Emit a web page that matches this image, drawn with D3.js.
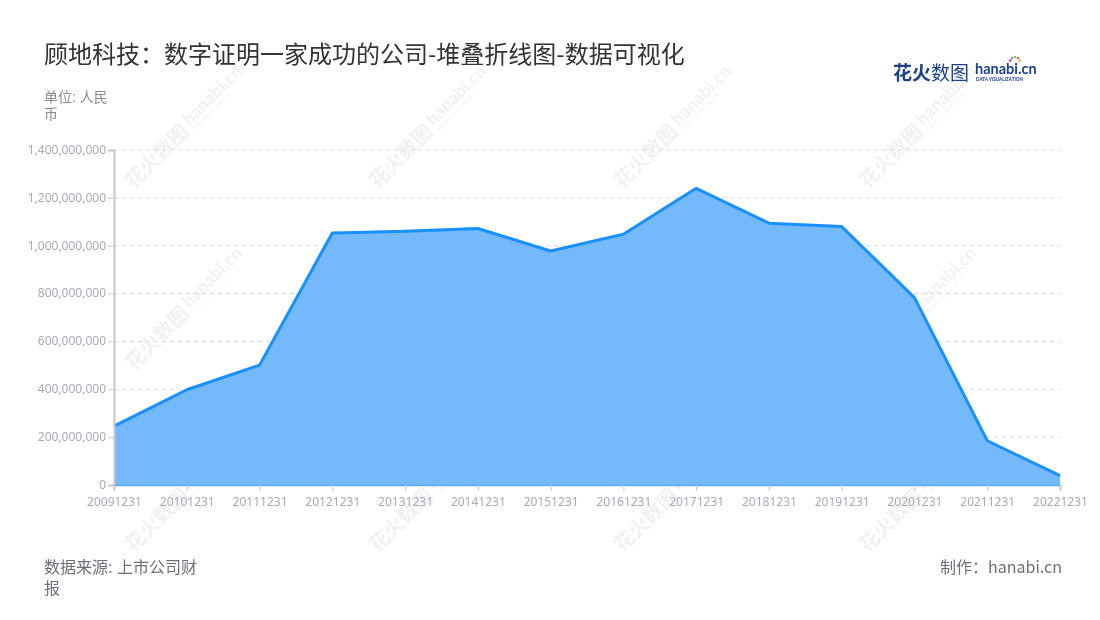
<!DOCTYPE html>
<html lang="zh">
<head>
<meta charset="UTF-8">
<title>顾地科技：数字证明一家成功的公司-堆叠折线图-数据可视化</title>
<script src="https://d3js.org/d3.v7.min.js"></script>
<style>
  body {
    margin: 0;
    background: #fff;
    font-family: "Noto Sans CJK SC", "Noto Sans", sans-serif;
  }
  .tick text { fill: #aaaab4; font-size: 12px; font-family: "Noto Sans", "Noto Sans CJK SC", sans-serif; }
  .note { font-family: "Liberation Sans", "Noto Sans CJK SC", sans-serif; }
</style>
</head>
<body>
<div id="vis"></div>
<script>
// data
const dates = ['20091231', '20101231', '20111231', '20121231', '20131231', '20141231', '20151231',
  '20161231', '20171231', '20181231', '20191231', '20201231', '20211231', '20221231'];
const revenue = [246e6, 398e6, 501e6, 1053e6, 1060e6, 1072e6, 978e6,
  1048e6, 1240e6, 1094e6, 1080e6, 783e6, 185e6, 39e6];
const yTicks = [0, 2e8, 4e8, 6e8, 8e8, 10e8, 12e8, 14e8];

const width = 1100;
const height = 620;
const margin = { top: 150, right: 40, bottom: 135, left: 114 };

const svg = d3.select('#vis')
  .append('svg')
  .attr('width', width)
  .attr('height', height);

// watermark layer
const wmX = [188, 432, 677, 922];
const wmY = [125, 307, 489];
const wm = svg.append('g').attr('opacity', 0.055);
wmY.forEach(y => wmX.forEach(x => {
  const g = wm.append('g').attr('transform', `translate(${x},${y}) rotate(-45)`);
  g.append('text')
    .attr('x', -4).attr('y', 7)
    .attr('text-anchor', 'end')
    .style('font-size', '20px')
    .style('font-weight', 'bold')
    .attr('fill', '#000')
    .text('花火数图');
  g.append('text')
    .attr('x', 0).attr('y', 2)
    .style('font-size', '18px')
    .style('font-weight', 'bold')
    .style('font-family', 'Lato, sans-serif')
    .attr('fill', '#000')
    .text('hanabi.cn');
  g.append('text')
    .attr('x', 1).attr('y', 9)
    .style('font-size', '5px')
    .style('font-family', 'Lato, sans-serif')
    .attr('fill', '#000')
    .text('DATA VISUALIZATION');
}));

const x = d3.scalePoint()
  .domain(dates)
  .range([margin.left, width - margin.right]);

const y = d3.scaleLinear()
  .domain([0, 1.4e9])
  .range([height - margin.bottom, margin.top]);

// dashed grid
svg.append('g')
  .selectAll('line')
  .data(yTicks.slice(1))
  .join('line')
  .attr('x1', margin.left)
  .attr('x2', width - margin.right)
  .attr('y1', d => y(d))
  .attr('y2', d => y(d))
  .attr('stroke', '#dcdcdc')
  .attr('stroke-dasharray', '4,4');

// area + line
const area = d3.area()
  .x((d, i) => x(dates[i]))
  .y0(y(0))
  .y1(d => y(d));

const line = d3.line()
  .x((d, i) => x(dates[i]))
  .y(d => y(d));

svg.append('path')
  .datum(revenue)
  .attr('d', area)
  .attr('fill', '#74b9fc');

svg.append('path')
  .datum(revenue)
  .attr('d', line)
  .attr('fill', 'none')
  .attr('stroke', '#1890ff')
  .attr('stroke-width', 3)
  .attr('stroke-linejoin', 'round');

// axes
const xAxis = svg.append('g')
  .attr('transform', `translate(0,${height - margin.bottom})`)
  .call(d3.axisBottom(x).tickSize(6).tickPadding(6));
xAxis.select('.domain').attr('stroke', '#5eaaf5').attr('stroke-width', 1.5);
xAxis.selectAll('.tick line').attr('stroke', '#c8c8c8');

const yAxis = svg.append('g')
  .attr('transform', `translate(${margin.left},0)`)
  .call(d3.axisLeft(y).tickValues(yTicks).tickFormat(d3.format(',')).tickSize(6).tickPadding(2));
yAxis.select('.domain').attr('stroke', '#c8c8c8').attr('stroke-width', 2);
yAxis.selectAll('.tick line').attr('stroke', '#c8c8c8');
yAxis.selectAll('.tick text').attr('dy', '0.28em');

// title & labels
svg.append('text')
  .attr('x', 44).attr('y', 63)
  .attr('fill', '#333')
  .style('font-size', '24px')
  .text('顾地科技：数字证明一家成功的公司-堆叠折线图-数据可视化');

svg.append('text')
  .attr('class', 'note')
  .attr('x', 44).attr('y', 102)
  .attr('fill', '#8a8a96')
  .style('font-size', '14px')
  .text('单位: 人民');
svg.append('text')
  .attr('class', 'note')
  .attr('x', 44).attr('y', 119)
  .attr('fill', '#8a8a96')
  .style('font-size', '14px')
  .text('币');

svg.append('text')
  .attr('class', 'note')
  .attr('x', 44).attr('y', 573)
  .attr('fill', '#6e6e7a')
  .style('font-size', '16px')
  .text('数据来源: 上市公司财');
svg.append('text')
  .attr('class', 'note')
  .attr('x', 44).attr('y', 594)
  .attr('fill', '#6e6e7a')
  .style('font-size', '16px')
  .text('报');

svg.append('text')
  .attr('x', 1062).attr('y', 573)
  .attr('text-anchor', 'end')
  .attr('fill', '#6e6e7a')
  .style('font-size', '16px')
  .text('制作：hanabi.cn');

// logo
const logo = svg.append('g');
logo.append('text')
  .attr('x', 893).attr('y', 80)
  .attr('fill', '#1d3f8f')
  .style('font-size', '19px')
  .style('font-weight', 'bold')
  .text('花火');
logo.append('text')
  .attr('x', 931).attr('y', 80)
  .attr('fill', '#1d3f8f')
  .style('font-size', '19px')
  .text('数图');
logo.append('text')
  .attr('x', 975).attr('y', 74)
  .attr('fill', '#1d3f8f')
  .style('font-size', '14.5px')
  .style('font-weight', 'bold')
  .style('font-family', 'Lato, sans-serif')
  .text('hanabi.cn');
logo.append('text')
  .attr('x', 976).attr('y', 80.5)
  .attr('fill', '#1d3f8f')
  .style('font-size', '4.6px')
  .style('font-weight', 'bold')
  .style('font-family', 'Lato, sans-serif')
  .text('DATA VISUALIZATION');
const sparkColors = ['#f5a623', '#e94e77', '#7ed321', '#4a90e2', '#bd10e0'];
logo.append('g')
  .selectAll('circle')
  .data(sparkColors)
  .join('circle')
  .attr('cx', (d, i) => 1015 + Math.cos(-Math.PI * (i + 0.5) / 5) * 5)
  .attr('cy', (d, i) => 62 + Math.sin(-Math.PI * (i + 0.5) / 5) * 5)
  .attr('r', 1.2)
  .attr('fill', d => d);
</script>
</body>
</html>
